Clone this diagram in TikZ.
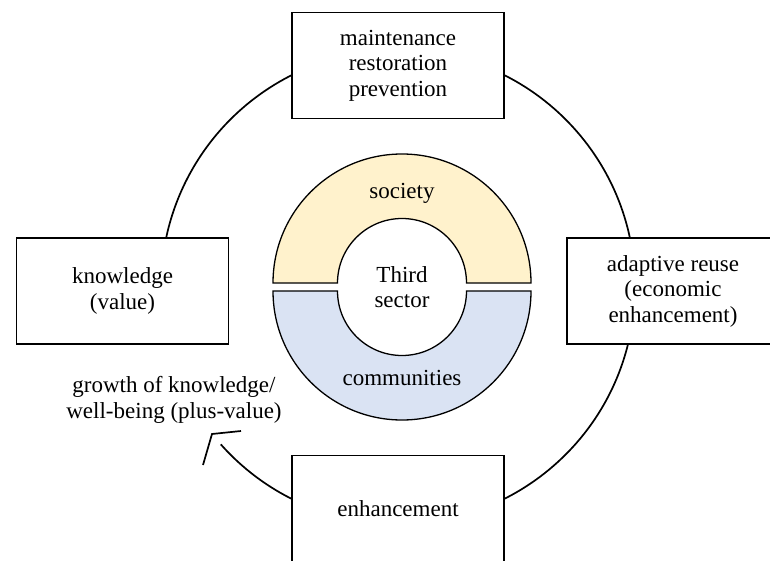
\documentclass[tikz,border=0pt]{standalone}
\usepackage{fontspec}
\setmainfont{Liberation Serif}
\definecolor{socfill}{HTML}{FFF2CC}
\definecolor{comfill}{HTML}{DAE3F3}
\begin{document}
\begin{tikzpicture}[x=1pt,y=-1pt,
  txt/.style={align=center,inner sep=0pt,font=\fontsize{23}{25.5}\selectfont},
  box/.style={txt,draw,line width=1.7pt,fill=white,minimum width=212pt,minimum height=106pt},
  ring/.style={draw,line width=1.7pt},
  half/.style={draw,line width=1.3pt}]
\useasboundingbox (0,0) rectangle (770,561);
% outer cycle
\coordinate (c) at (398,287);
\draw[ring] (c) ++(138.4:237) coordinate (arcend) arc[start angle=138.4,end angle=-190,radius=237];
% arrow head
\coordinate (tip) at (212,434);
\draw[ring,line join=miter] (tip) ++(29,-3) -- (tip) -- ++(-9,31);
% donut halves
\path[half,fill=socfill] (273,283) arc[start angle=180,end angle=360,radius=129]
  -- (466.5,283) arc[start angle=0,end angle=-180,radius=64.5] -- cycle;
\path[half,fill=comfill] (273,291) arc[start angle=180,end angle=0,radius=129]
  -- (466.5,291) arc[start angle=0,end angle=180,radius=64.5] -- cycle;
% boxes
\node[box] (top) at (398,65.5) {maintenance\\restoration\\prevention};
\node[box] (left) at (122.5,291) {knowledge\\(value)};
\node[box] (right) at (673,291) {adaptive reuse\\(economic\\enhancement)};
\node[box] (bottom) at (398,508.5) {enhancement};
% labels
\node[txt] (growth) at (174,400) {growth of knowledge/\\well-being (plus-value)};
\node[txt] (soc) at (402,193) {society};
\node[txt] (third) at (402,287) {Third\\sector};
\node[txt] (com) at (402,378) {communities};
\end{tikzpicture}
\end{document}
